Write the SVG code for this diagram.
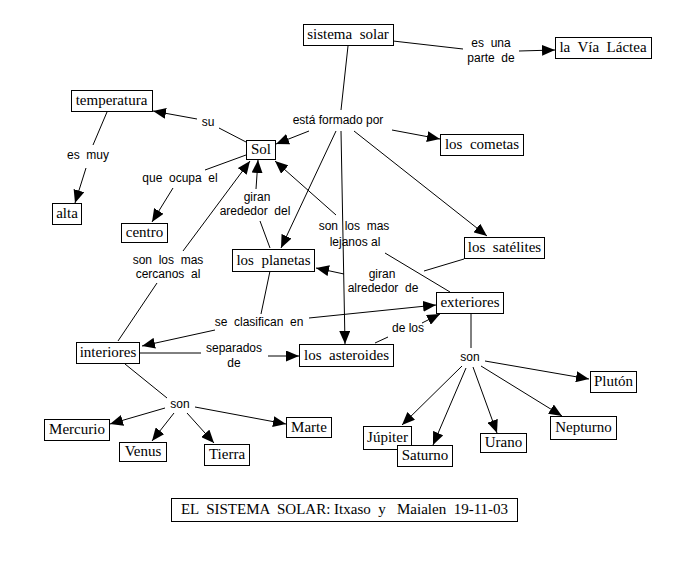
<svg xmlns="http://www.w3.org/2000/svg" width="691" height="562" viewBox="0 0 691 562">
<style>
.n rect{fill:#fff;stroke:#000;stroke-width:1}
.n text{font-family:"Liberation Serif","Times New Roman",serif;font-size:15px;fill:#000;text-anchor:middle;white-space:pre}
.l{font-family:"Liberation Sans",Arial,sans-serif;font-size:12px;fill:#000;text-anchor:middle;white-space:pre}
.c line{stroke:#000;stroke-width:1}
.a{marker-end:url(#ah)}
</style>
<defs>
<marker id="ah" markerUnits="userSpaceOnUse" markerWidth="14" markerHeight="11" refX="13" refY="5.5" orient="auto"><path d="M0,0 L13,5.5 L0,11 z" fill="#000"/></marker>
</defs>
<rect width="691" height="562" fill="#fff"/>
<g id="connectors" class="c">
<line x1="393" y1="41" x2="463" y2="49"/>
<line class="a" x1="519" y1="51" x2="555" y2="50"/>
<line x1="348" y1="46" x2="341" y2="110"/>
<line class="a" x1="309" y1="131" x2="276" y2="144"/>
<line class="a" x1="392" y1="130" x2="440" y2="139"/>
<line class="a" x1="336" y1="131" x2="281" y2="248"/>
<line class="a" x1="341" y1="131" x2="345" y2="344"/>
<line class="a" x1="354" y1="131" x2="487" y2="236"/>
<line x1="246" y1="142" x2="219" y2="128"/>
<line class="a" x1="197" y1="119" x2="153" y2="111"/>
<line x1="107" y1="112" x2="93" y2="145"/>
<line class="a" x1="86" y1="168" x2="75" y2="203"/>
<line x1="246" y1="155" x2="205" y2="170"/>
<line class="a" x1="173" y1="188" x2="152" y2="222"/>
<line x1="270" y1="248" x2="260" y2="221"/>
<line class="a" x1="256" y1="189" x2="258" y2="160"/>
<line x1="118" y1="341" x2="157" y2="283"/>
<line class="a" x1="183" y1="251" x2="250" y2="161"/>
<line x1="450" y1="292" x2="385" y2="253"/>
<line class="a" x1="336" y1="215" x2="275" y2="161"/>
<line x1="464" y1="259" x2="424" y2="271"/>
<line class="a" x1="344" y1="274" x2="316" y2="268"/>
<line x1="270" y1="271" x2="261" y2="314"/>
<line class="a" x1="215" y1="330" x2="142" y2="346"/>
<line class="a" x1="309" y1="318" x2="436" y2="305"/>
<line x1="139" y1="353" x2="201" y2="353"/>
<line class="a" x1="268" y1="356" x2="299" y2="356"/>
<line x1="375" y1="343" x2="388" y2="337"/>
<line class="a" x1="422" y1="323" x2="440" y2="314"/>
<line x1="125" y1="364" x2="167" y2="398"/>
<line class="a" x1="165" y1="408" x2="110" y2="424"/>
<line class="a" x1="174" y1="413" x2="152" y2="441"/>
<line class="a" x1="187" y1="413" x2="214" y2="443"/>
<line class="a" x1="195" y1="407" x2="286" y2="424"/>
<line x1="471" y1="313" x2="471" y2="348"/>
<line class="a" x1="462" y1="366" x2="402" y2="425"/>
<line class="a" x1="466" y1="368" x2="433" y2="445"/>
<line class="a" x1="473" y1="367" x2="497" y2="433"/>
<line class="a" x1="481" y1="366" x2="562" y2="416"/>
<line class="a" x1="485" y1="361" x2="589" y2="379"/>
</g>
<g id="labels">
<text class="l" x="491" y="47">es  una</text>
<text class="l" x="491" y="62">parte  de</text>
<text class="l" x="338" y="124">está formado por</text>
<text class="l" x="208" y="126">su</text>
<text class="l" x="88" y="159">es  muy</text>
<text class="l" x="180" y="182">que  ocupa  el</text>
<text class="l" x="257" y="201">giran</text>
<text class="l" x="255" y="215">arededor  del</text>
<text class="l" x="168" y="264">son  los  mas</text>
<text class="l" x="168" y="278">cercanos  al</text>
<text class="l" x="354" y="230">son  los  mas</text>
<text class="l" x="355" y="246">lejanos al</text>
<text class="l" x="382" y="278">giran</text>
<text class="l" x="383" y="292">alrededor  de</text>
<text class="l" x="259" y="326">se  clasifican  en</text>
<text class="l" x="234" y="352">separados</text>
<text class="l" x="234" y="367">de</text>
<text class="l" x="408" y="332">de los</text>
<text class="l" x="180" y="408">son</text>
<text class="l" x="470" y="361">son</text>
</g>
<g id="sistema-solar" class="n"><rect x="303.5" y="24.5" width="90" height="21"/><text x="348" y="39">sistema  solar</text></g>
<g id="via-lactea" class="n"><rect x="555.5" y="37.5" width="96" height="21"/><text x="603" y="52">la  Vía  Láctea</text></g>
<g id="temperatura" class="n"><rect x="71.5" y="90.5" width="81" height="21"/><text x="111.5" y="105">temperatura</text></g>
<g id="sol" class="n"><rect x="246.5" y="140.5" width="29" height="19"/><text x="261" y="154">Sol</text></g>
<g id="alta" class="n"><rect x="52.5" y="203.5" width="29" height="21"/><text x="67" y="218">alta</text></g>
<g id="centro" class="n"><rect x="121.5" y="223.5" width="46" height="19"/><text x="144.5" y="237">centro</text></g>
<g id="planetas" class="n"><rect x="232.5" y="249.5" width="82" height="22"/><text x="273.5" y="265">los  planetas</text></g>
<g id="cometas" class="n"><rect x="440.5" y="134.5" width="83" height="21"/><text x="482" y="149">los  cometas</text></g>
<g id="satelites" class="n"><rect x="464.5" y="237.5" width="80" height="21"/><text x="504.5" y="252">los  satélites</text></g>
<g id="exteriores" class="n"><rect x="436.5" y="292.5" width="67" height="21"/><text x="470" y="307">exteriores</text></g>
<g id="asteroides" class="n"><rect x="299.5" y="344.5" width="94" height="22"/><text x="346.5" y="360">los  asteroides</text></g>
<g id="interiores" class="n"><rect x="76.5" y="342.5" width="63" height="21"/><text x="108" y="357">interiores</text></g>
<g id="mercurio" class="n"><rect x="44.5" y="419.5" width="65" height="21"/><text x="77" y="434">Mercurio</text></g>
<g id="venus" class="n"><rect x="119.5" y="442.5" width="47" height="19"/><text x="143" y="456">Venus</text></g>
<g id="tierra" class="n"><rect x="204.5" y="444.5" width="45" height="21"/><text x="227" y="459">Tierra</text></g>
<g id="marte" class="n"><rect x="286.5" y="417.5" width="45" height="20"/><text x="309" y="432">Marte</text></g>
<g id="jupiter" class="n"><rect x="363.5" y="426.5" width="48" height="23"/><text x="387.5" y="442">Júpiter</text></g>
<g id="saturno" class="n"><rect x="397.5" y="445.5" width="55" height="21"/><text x="425" y="460">Saturno</text></g>
<g id="urano" class="n"><rect x="480.5" y="433.5" width="46" height="19"/><text x="503.5" y="447">Urano</text></g>
<g id="neptuno" class="n"><rect x="550.5" y="416.5" width="66" height="23"/><text x="583.5" y="432">Nepturno</text></g>
<g id="pluton" class="n"><rect x="590.5" y="371.5" width="46" height="21"/><text x="613.5" y="386">Plutón</text></g>
<g id="title" class="n"><rect x="171.5" y="498.5" width="346" height="23"/><text x="344.5" y="514">EL  SISTEMA  SOLAR: Itxaso  y   Maialen  19-11-03</text></g>
</svg>
